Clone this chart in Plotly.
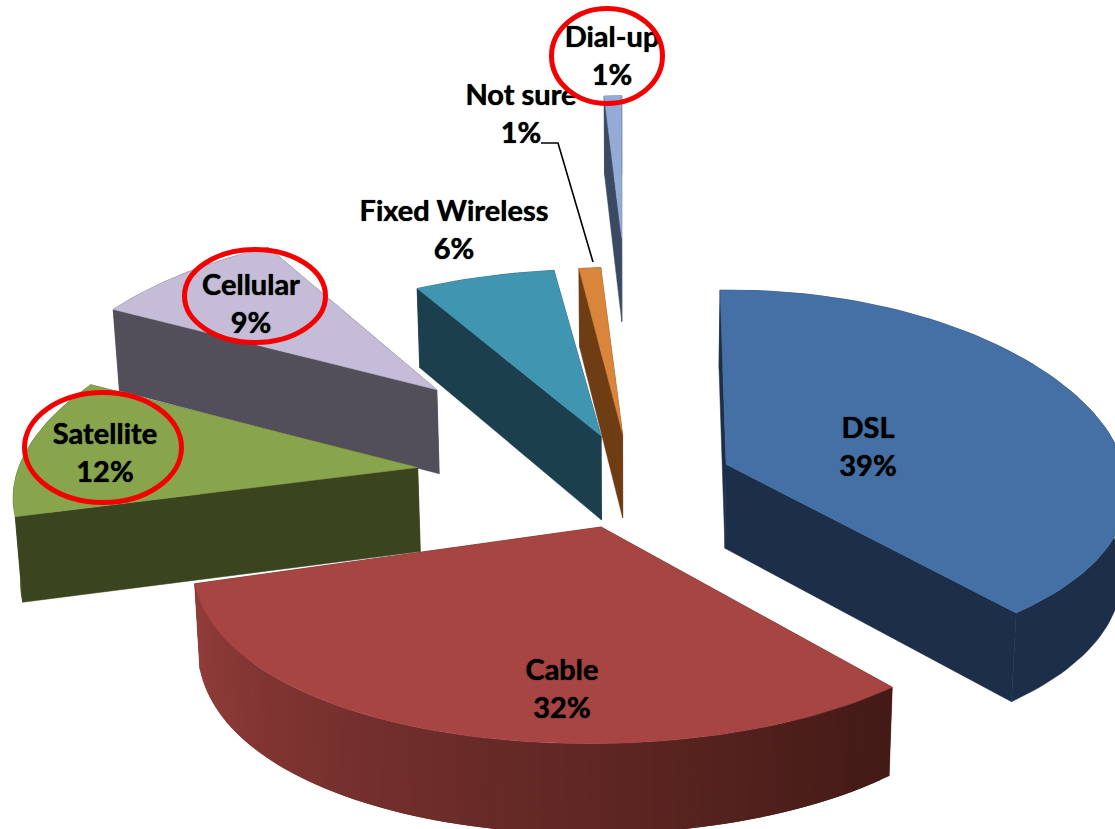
import math
import plotly.graph_objects as go

# ---------- data ----------
categories = ["DSL", "Cable", "Satellite", "Cellular", "Fixed Wireless", "Not sure", "Dial-up"]
shares = [39, 32, 12, 9, 6, 1, 1]

# ---------- style / layout ----------
explode = [0.25, 0.25, 0.54, 0.69, 0.25, 0.25, 1.30]
nudge_x = [0, 0, 0, 0, 0, 0, 6]
nudge_y = [0, 3, 0, 0, 0, 0, -2]
spread_x = [0.99, 1.01, 1, 0.99, 1.08, 1, 0.8]
spread_y = [1.02, 1.05, 1, 1, 1, 1, 0.98]
shear_y = [5, 6, 3, 0, 0, 0, 0]
tilt_x = [6, 0, 0, 0, 0, 0, 0]
top_colors = ["#4470a6", "#a74543", "#88a44d", "#c5bcd7", "#4095b0", "#d9853c", "#94abd6"]
cut_colors = ["#1c2e48", "#431a16", "#3a441e", "#524e5a", "#1b3f4d", "#6e3d14", "#3a4a63"]
rim_from = ["#1c2e48", "#421a16", "#3a441e", "#524e5a", "#1b3f4d", "#6e3d14", "#3a4a63"]
rim_to = ["#1c2e48", "#943d3b", "#3a441e", "#524e5a", "#1b3f4d", "#6e3d14", "#3a4a63"]
draw_order = [6, 5, 4, 3, 2, 0, 1]
label_xy = [(868, 450), (562, 692), (105, 456), (251, 307), (454, 233), (521, 117), (612, 59)]
rings = [(22, 390, 184, 505), (182, 247, 328, 345), (549, 6, 665, 106)]
leader_x = [541, 558, 593]
leader_y = [143, 143, 262]
W, H = 1115, 829
X0, Y0, RU, RV, PERSP_X, PERSP_Y = 632, 480, 400, 185, 0.15, 0.07
DEPTH_GAIN = 0.15
LEAN = 0.012


def hex_mix(a, b, t):
    ca = [int(a[i:i + 2], 16) for i in (1, 3, 5)]
    cb = [int(b[i:i + 2], 16) for i in (1, 3, 5)]
    return "#%02x%02x%02x" % tuple(round(p + (q - p) * t) for p, q in zip(ca, cb))


def rim_point(i, apex, deg, sy):
    u, v = math.sin(math.radians(deg)), math.cos(math.radians(deg))
    x = apex[0] + spread_x[i] * RU * u / (1 + PERSP_X * v) - tilt_x[i] * v
    y = apex[1] - spread_y[i] * sy * RV * v / (1 + PERSP_Y * v) - shear_y[i] * u
    return x, y, v


def drop(px, py, v):
    depth = 84 / (1 + 0.07 * v)
    return px + (X0 - px) * LEAN, py + depth


def poly(xs, ys, color):
    return go.Scatter(x=xs + xs[:1], y=ys + ys[:1], mode="lines", fill="toself", fillcolor=color,
                      line=dict(color=color, width=0.5), hoverinfo="skip", showlegend=False)


traces = []
starts = [0]
for s in shares:
    starts.append(starts[-1] + s * 3.6)

for i in draw_order:
    a0, a1 = starts[i], starts[i + 1]
    mid = math.radians((a0 + a1) / 2)
    e = explode[i]
    apex = (X0 + RU * e * math.sin(mid) + nudge_x[i], Y0 - RV * e * math.cos(mid) + nudge_y[i])
    sy = 1 / (1 + DEPTH_GAIN * e * math.cos(mid))
    n = max(3, int((a1 - a0) / 1.5))
    pts = [rim_point(i, apex, a0 + (a1 - a0) * k / n, sy) for k in range(n + 1)]
    apex_low = drop(apex[0], apex[1], 0)
    # the two cut faces
    for p in (pts[0], pts[-1]):
        low = drop(p[0], p[1], p[2])
        traces.append(poly([apex[0], p[0], low[0], apex_low[0]],
                           [apex[1], p[1], low[1], apex_low[1]], cut_colors[i]))
    # outer wall: one piece when flat, overlapping strips when shaded
    if rim_from[i] == rim_to[i]:
        lows = [drop(*p) for p in pts]
        traces.append(poly([p[0] for p in pts] + [l[0] for l in lows[::-1]],
                           [p[1] for p in pts] + [l[1] for l in lows[::-1]], rim_from[i]))
    else:
        for k in range(n):
            p, q = pts[k], pts[min(k + 2, n)]
            lp, lq = drop(*p), drop(*q)
            traces.append(go.Scatter(x=[p[0], q[0], lq[0], lp[0], p[0]], y=[p[1], q[1], lq[1], lp[1], p[1]],
                                     mode="lines", fill="toself",
                                     fillcolor=hex_mix(rim_from[i], rim_to[i], (k + 0.5) / n),
                                     line=dict(width=0), hoverinfo="skip", showlegend=False))
    # top face
    traces.append(poly([apex[0]] + [p[0] for p in pts], [apex[1]] + [p[1] for p in pts], top_colors[i]))

traces.append(go.Scatter(x=leader_x, y=leader_y, mode="lines", line=dict(color="black", width=1.6),
                         hoverinfo="skip", showlegend=False))
traces.append(go.Scatter(
    x=[p[0] for p in label_xy], y=[p[1] for p in label_xy], mode="text",
    text=[f"{c}<br>{s}%" for c, s in zip(categories, shares)],
    textposition="middle center",
    textfont=dict(family="Lato", size=29, color="black", weight="bold", shadow="0 0 1px #000"),
    hoverinfo="skip", showlegend=False))

fig = go.Figure(traces)
for x0, y0, x1, y1 in rings:
    fig.add_shape(type="circle", x0=x0 + 2.5, y0=y0 + 2.5, x1=x1 - 2.5, y1=y1 - 2.5,
                  line=dict(color="#f40000", width=5), layer="above")
fig.update_layout(
    width=W, height=H, autosize=False, margin=dict(l=0, r=0, t=0, b=0),
    paper_bgcolor="white", plot_bgcolor="white", showlegend=False,
    xaxis=dict(range=[0, W], visible=False, fixedrange=True),
    yaxis=dict(range=[H, 0], visible=False, fixedrange=True),
)
fig.write_html("out.html", config={"displayModeBar": False},
               post_script="document.body.style.margin='0';document.body.style.overflow='hidden';")
